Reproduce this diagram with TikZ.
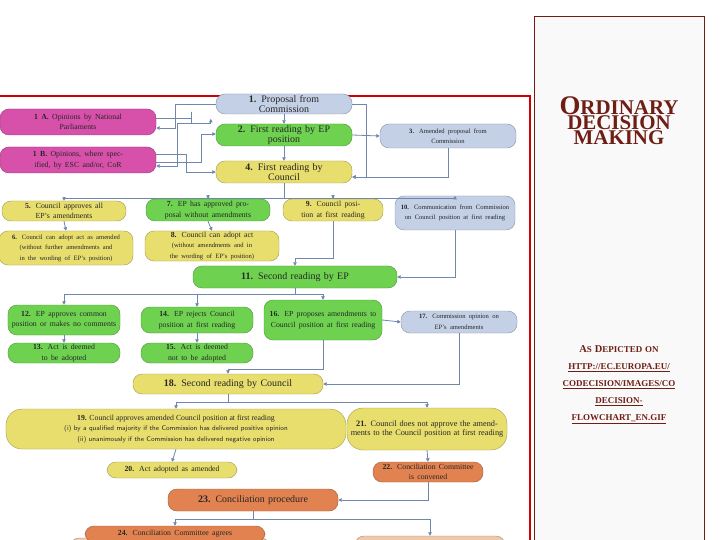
\documentclass[tikz,border=0pt]{standalone}
\usepackage{fontspec}
\setmainfont{Liberation Serif}
\usetikzlibrary{arrows.meta}
\definecolor{cblue}{RGB}{196,208,230}
\definecolor{cgreen}{RGB}{110,210,80}
\definecolor{cyellow}{RGB}{232,222,110}
\definecolor{cmag}{RGB}{215,80,170}
\definecolor{corange}{RGB}{225,130,80}
\definecolor{clorange}{RGB}{240,200,170}
\definecolor{cline}{RGB}{110,135,170}
\definecolor{dred}{RGB}{110,30,20}
\tikzset{
 box/.style={draw=#1!70!black, line width=0.4pt, fill=#1, rounded corners=9bp, align=center, inner sep=1bp, font=\fontsize{10}{10.5}\selectfont, text=black!85},
 conn/.style={draw=cline, line width=0.8pt, -{Triangle[length=3.5bp,width=3.5bp]}},
 plain/.style={draw=cline, line width=0.8pt},
}
\newcommand{\bx}[7]{\node[box=#5, minimum width=#3bp, minimum height=#4bp, text width=#3bp-4bp] (#1) at (#2) {#6 #7};}
\newcommand{\sm}{\fontsize{7.8}{8.3}\selectfont}
\newcommand{\xs}{\fontsize{6.6}{7}\selectfont}
\begin{document}
\begin{tikzpicture}[x=1bp,y=-1bp]
\useasboundingbox (0,0) rectangle (720,540);
\fill[white] (0,0) rectangle (720,540);
% right panel
\node[draw=dred, fill=gray!5, line width=0.6pt, minimum width=170bp, minimum height=530bp, anchor=north west, inner sep=0] (panel) at (534,16) {};
\node[text=dred, font=\bfseries, align=center] (title) at (619,121) {{\fontsize{27}{34}\selectfont O}{\fontsize{21}{34}\selectfont RDINARY}\\{\fontsize{21}{34}\selectfont DECISION}\\{\fontsize{21}{34}\selectfont MAKING}};
\node[text=dred, font=\fontsize{9}{17}\selectfont\bfseries, align=center, text width=168bp] (src) at (619,385) {{\fontsize{10.5}{17}\selectfont A}S {\fontsize{10.5}{17}\selectfont D}EPICTED ON\\\underline{HTTP://EC.EUROPA.EU/}\\\underline{CODECISION/IMAGES/CO}\\\underline{DECISION-}\\\underline{FLOWCHART\_EN.GIF}};
% red frame
\draw[red!80!black, line width=1.5pt] (0,96) -- (530,96) -- (530,545);
% nodes
\bx{n1}{284,104}{136}{20}{cblue}{\textbf{1.}}{Proposal from\\Commission}
\bx{n1a}{78,122}{156}{26}{cmag}{\sm\textbf{1 A.}}{\sm Opinions by National\\Parliaments}
\bx{n1b}{78,160}{156}{26}{cmag}{\sm\textbf{1 B.}}{\sm Opinions, where specified, by ESC and/or, CoR}
\bx{n2}{284,135}{136}{22}{cgreen}{\textbf{2.}}{First reading by EP\\position}
\bx{n3}{448,136}{136}{24}{cblue}{\xs\textbf{3.}}{\xs Amended proposal from\\Commission}
\bx{n4}{284,172}{136}{22}{cyellow}{\textbf{4.}}{First reading by\\Council}
\bx{n5}{64,211}{124}{20}{cyellow}{\sm\textbf{5.}}{\sm Council approves all\\EP's amendments}
\bx{n6}{66,248}{134}{34}{cyellow}{\xs\textbf{6.}}{\xs Council can adopt act as amended (without further amendments and in the wording of EP's position)}
\bx{n7}{208,210}{124}{22}{cgreen}{\sm\textbf{7.}}{\sm EP has approved proposal without amendments}
\bx{n8}{212,246}{134}{30}{cyellow}{\sm\textbf{8.}}{\sm Council can adopt act {\xs (without amendments and in the wording of EP's position)}}
\bx{n9}{333,210}{100}{22}{cyellow}{\sm\textbf{9.}}{\sm Council position at first reading}
\bx{n10}{455,213}{120}{34}{cblue}{\xs\textbf{10.}}{\xs Communication from Commission on Council position at first reading}
\bx{n11}{295,277}{204}{22}{cgreen}{\textbf{11.}}{Second reading by EP}
\bx{n12}{64,320}{112}{30}{cgreen}{\sm\textbf{12.}}{\sm EP approves common position or makes no comments}
\bx{n13}{64,353}{112}{20}{cgreen}{\sm\textbf{13.}}{\sm Act is deemed to be adopted}
\bx{n14}{197,320}{112}{26}{cgreen}{\sm\textbf{14.}}{\sm EP rejects Council position at first reading}
\bx{n15}{197,353}{112}{20}{cgreen}{\sm\textbf{15.}}{\sm Act is deemed not to be adopted}
\bx{n16}{323,320}{118}{40}{cgreen}{\sm\textbf{16.}}{\sm EP proposes amendments to Council position at first reading}
\bx{n17}{459,322}{116}{22}{cblue}{\xs\textbf{17.}}{\xs Commission opinion on\\EP's amendments}
\bx{n18}{228,384}{190}{20}{cyellow}{\textbf{18.}}{Second reading by Council}
\node[box=cyellow, minimum width=340bp, minimum height=40bp, rounded corners=16bp] (n19) at (176,429) {{\sm\textbf{19.} Council approves amended Council position at first reading}\\{\fontsize{6.8}{7.8}\selectfont\sffamily (i) by a qualified majority if the Commission has delivered positive opinion}\\{\fontsize{6.8}{7.8}\selectfont\sffamily (ii) unanimously if the Commission has delivered negative opinion}};
\bx{n20}{172,470}{130}{16}{cyellow}{\sm\textbf{20.}}{\sm Act adopted as amended}
\node[box=cyellow, minimum width=160bp, minimum height=42bp, text width=154bp, rounded corners=16bp, font=\fontsize{8.3}{9.5}\selectfont] (n21) at (427,429) {\textbf{21.} Council does not approve the amendments to the Council position at first reading};
\bx{n22}{428,472}{110}{20}{corange}{\sm\textbf{22.}}{\sm Conciliation Committee\\is convened}
\bx{n23}{253,500}{170}{22}{corange}{\textbf{23.}}{Conciliation procedure}
\node[box=clorange, minimum width=200bp, minimum height=20bp] (n24b) at (170,548) {};
\bx{n24}{175,534}{180}{16}{corange}{\sm\textbf{24.}}{\sm Conciliation Committee agrees}
\node[box=clorange, minimum width=150bp, minimum height=24bp] (n25) at (430,548) {};
% connectors
\draw[conn] (n1.south) -- (n2.north);
\draw[conn] (n2.south) -- (n4.north);
\draw[conn] (n2.east) -- (n3.west);
\draw[conn] (n3.south) |- ([yshift=-5bp]n4.east);
\draw[conn] (n1.east) -| ++(14,0) |- ([yshift=-5bp]n4.east);
\draw[conn] (n1.west) -- ++(-40,0) |- ([yshift=-6bp]n1a.east);
\draw[conn] ([yshift=4bp]n1a.east) -| ++(35,-6) |- ([xshift=-5bp]n2.north west) -- ([xshift=-5bp,yshift=5bp]n2.north west);
\draw[conn] ([xshift=-8bp]n2.north west) -- ++(-30,0) |- ([yshift=-6bp]n1b.east);
\draw[conn] ([yshift=-2bp]n1b.east) -- ++(45,0) |- ([yshift=1bp]n2.west);
\draw[conn] ([yshift=6bp]n1b.east) -- ++(30,0) |- (n4.west);
\coordinate (b4) at (284,198);
\draw[plain] (n4.south) -- (b4);
\draw[conn] (b4) -| (n5.north);
\draw[conn] (b4) -| (n7.north);
\draw[conn] (b4) -| (n9.north);
\draw[conn] (b4) -| (n10.north);
\draw[conn] (n5.south) -- (n6.north);
\draw[conn] (n7.south) -- (n8.north);
\draw[conn] (n9.south) |- (295,258) -- (n11.north);
\draw[conn] (n10.south) |- (n11.east);
\coordinate (b11) at (295,294);
\draw[plain] (n11.south) -- (b11);
\draw[conn] (b11) -| (n12.north);
\draw[conn] (b11) -| (n14.north);
\draw[conn] (b11) -| (n16.north);
\draw[conn] (n12.south) -- (n13.north);
\draw[conn] (n14.south) -- (n15.north);
\draw[conn] (n16.east) -- (n17.west);
\draw[conn] (n16.south) |- (228,369) -- (n18.north);
\draw[conn] (n17.south) |- (n18.east);
\coordinate (b18) at (228,402);
\draw[plain] (n18.south) -- (b18);
\draw[conn] (b18) -| (n19.north);
\draw[conn] (b18) -| (n21.north);
\draw[conn] (n19.south) -- (n20.north);
\draw[conn] (n21.south) -- (n22.north);
\draw[conn] (n22.south) |- (n23.east);
\coordinate (b23) at (253,519);
\draw[plain] (n23.south) -- (b23);
\draw[conn] (b23) -| (n24.north);
\draw[conn] (b23) -| (n25.north);
\end{tikzpicture}
\end{document}
